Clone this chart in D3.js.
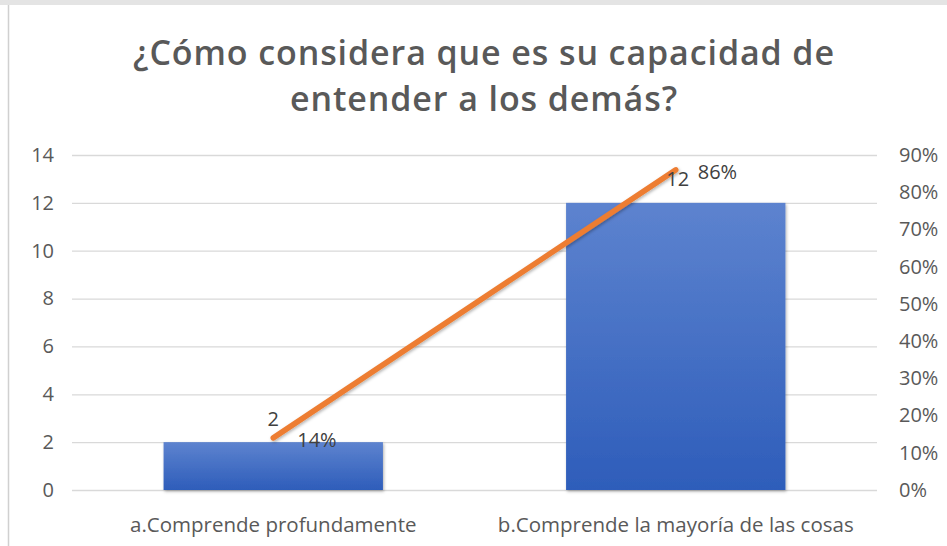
<!DOCTYPE html>
<html>
<head>
<meta charset="utf-8">
<script src="https://cdn.jsdelivr.net/npm/d3@7"></script>
<style>
  body { margin: 0; background: #fff; }
  svg { display: block; font-family: "Open Sans", "Noto Sans", sans-serif; }
</style>
</head>
<body>
<svg width="947" height="546"></svg>
<script>
var categories = ["a.Comprende profundamente", "b.Comprende la mayoría de las cosas"];
var counts = [2, 12];
var percents = [0.14, 0.86];
var leftTicks = [0, 2, 4, 6, 8, 10, 12, 14];
var rightTicks = [0, 0.1, 0.2, 0.3, 0.4, 0.5, 0.6, 0.7, 0.8, 0.9];
var titleLines = ["¿Cómo considera que es su capacidad de", "entender a los demás?"];

var svg = d3.select("svg"),
    margin = {top: 155, right: 70, bottom: 56, left: 72},
    width = 947 - margin.left - margin.right,
    height = 546 - margin.top - margin.bottom,
    g = svg.append("g").attr("transform", "translate(" + margin.left + "," + margin.top + ")");

// frame edges
svg.append("rect").attr("x", 0).attr("y", 0).attr("width", 947).attr("height", 5).attr("fill", "#e4e4e4");
svg.append("line").attr("x1", 8.5).attr("x2", 8.5).attr("y1", 5).attr("y2", 546).attr("stroke", "#d0d0d0").attr("stroke-width", 1.5);

var defs = svg.append("defs");
var grad = defs.append("linearGradient").attr("id", "barGrad").attr("x1", 0).attr("x2", 0).attr("y1", 0).attr("y2", 1);
grad.append("stop").attr("offset", "0%").attr("stop-color", "#5d83cf");
grad.append("stop").attr("offset", "100%").attr("stop-color", "#2e5dba");
var shadow = defs.append("filter").attr("id", "shadow").attr("x", "-10%").attr("y", "-10%").attr("width", "130%").attr("height", "130%");
shadow.append("feDropShadow").attr("dx", 1).attr("dy", 1.5).attr("stdDeviation", 1.5).attr("flood-color", "#000").attr("flood-opacity", 0.3);

var x = d3.scaleBand().domain(categories).range([0, width]).paddingInner(0.455).paddingOuter(0.2275),
    y = d3.scaleLinear().domain([0, 14]).range([height, 0]),
    y2 = d3.scaleLinear().domain([0, 0.9]).range([height, 0]);

// title
svg.append("text")
    .attr("x", 484)
    .attr("text-anchor", "middle")
    .attr("fill", "#595959")
    .style("font-size", "34px")
    .style("font-weight", "600")
    .style("letter-spacing", "0.9px")
    .selectAll("tspan")
    .data(titleLines)
    .enter().append("tspan")
    .attr("x", 484)
    .attr("y", function(d, i) { return 65 + i * 46; })
    .text(function(d) { return d; });

// gridlines
g.append("g")
    .attr("class", "grid")
    .call(d3.axisLeft(y).tickValues(leftTicks).tickSize(-width).tickFormat(""))
    .call(function(s) { s.select(".domain").remove(); })
    .selectAll("line").attr("stroke", "#d9d9d9").attr("stroke-width", 1.3);

// left axis
g.append("g")
    .attr("class", "axis axis--y")
    .call(d3.axisLeft(y).tickValues(leftTicks).tickSize(0).tickPadding(18))
    .call(function(s) { s.select(".domain").remove(); })
    .selectAll("text").attr("fill", "#595959").style("font-size", "20px").style("font-family", "Open Sans, sans-serif");

// right axis
g.append("g")
    .attr("class", "axis axis--y2")
    .attr("transform", "translate(" + width + ",0)")
    .call(d3.axisRight(y2).tickValues(rightTicks).tickSize(0).tickPadding(22).tickFormat(d3.format(".0%")))
    .call(function(s) { s.select(".domain").remove(); })
    .selectAll("text").attr("fill", "#595959").style("font-size", "20px").style("font-family", "Open Sans, sans-serif");

// x axis labels
g.append("g")
    .attr("class", "axis axis--x")
    .attr("transform", "translate(0," + height + ")")
    .call(d3.axisBottom(x).tickSize(0).tickPadding(27))
    .call(function(s) { s.select(".domain").remove(); })
    .selectAll("text").attr("fill", "#595959").style("font-size", "20.5px").style("font-family", "Open Sans, sans-serif");

// bars
g.selectAll(".bar")
    .data(counts)
    .enter().append("rect")
    .attr("class", "bar")
    .attr("x", function(d, i) { return x(categories[i]); })
    .attr("y", function(d) { return y(d); })
    .attr("width", x.bandwidth())
    .attr("height", function(d) { return height - y(d); })
    .attr("fill", "url(#barGrad)")
    .attr("filter", "url(#shadow)");

// line
var line = d3.line()
    .x(function(d, i) { return x(categories[i]) + x.bandwidth() / 2; })
    .y(function(d) { return y2(d); });

g.append("path")
    .datum(percents)
    .attr("d", line)
    .attr("fill", "none")
    .attr("stroke", "#ed7d31")
    .attr("stroke-width", 5.5)
    .attr("stroke-linecap", "round")
    .attr("filter", "url(#shadow)");

// count labels
g.selectAll(".countLabel")
    .data(counts)
    .enter().append("text")
    .attr("class", "countLabel")
    .attr("x", function(d, i) { return x(categories[i]) + x.bandwidth() / 2 + (i === 1 ? 2 : 0); })
    .attr("y", function(d) { return y(d) - 16.5; })
    .attr("text-anchor", "middle")
    .attr("fill", "#404040")
    .style("font-size", "20px")
    .text(function(d) { return d; });

// percent labels
g.selectAll(".pctLabel")
    .data(percents)
    .enter().append("text")
    .attr("class", "pctLabel")
    .attr("x", function(d, i) { return x(categories[i]) + x.bandwidth() / 2 + (i === 1 ? 22 : 24); })
    .attr("y", function(d) { return y2(d) + 9.5; })
    .attr("fill", "#404040")
    .style("font-size", "20px")
    .text(function(d) { return d3.format(".0%")(d); });
</script>
</body>
</html>
